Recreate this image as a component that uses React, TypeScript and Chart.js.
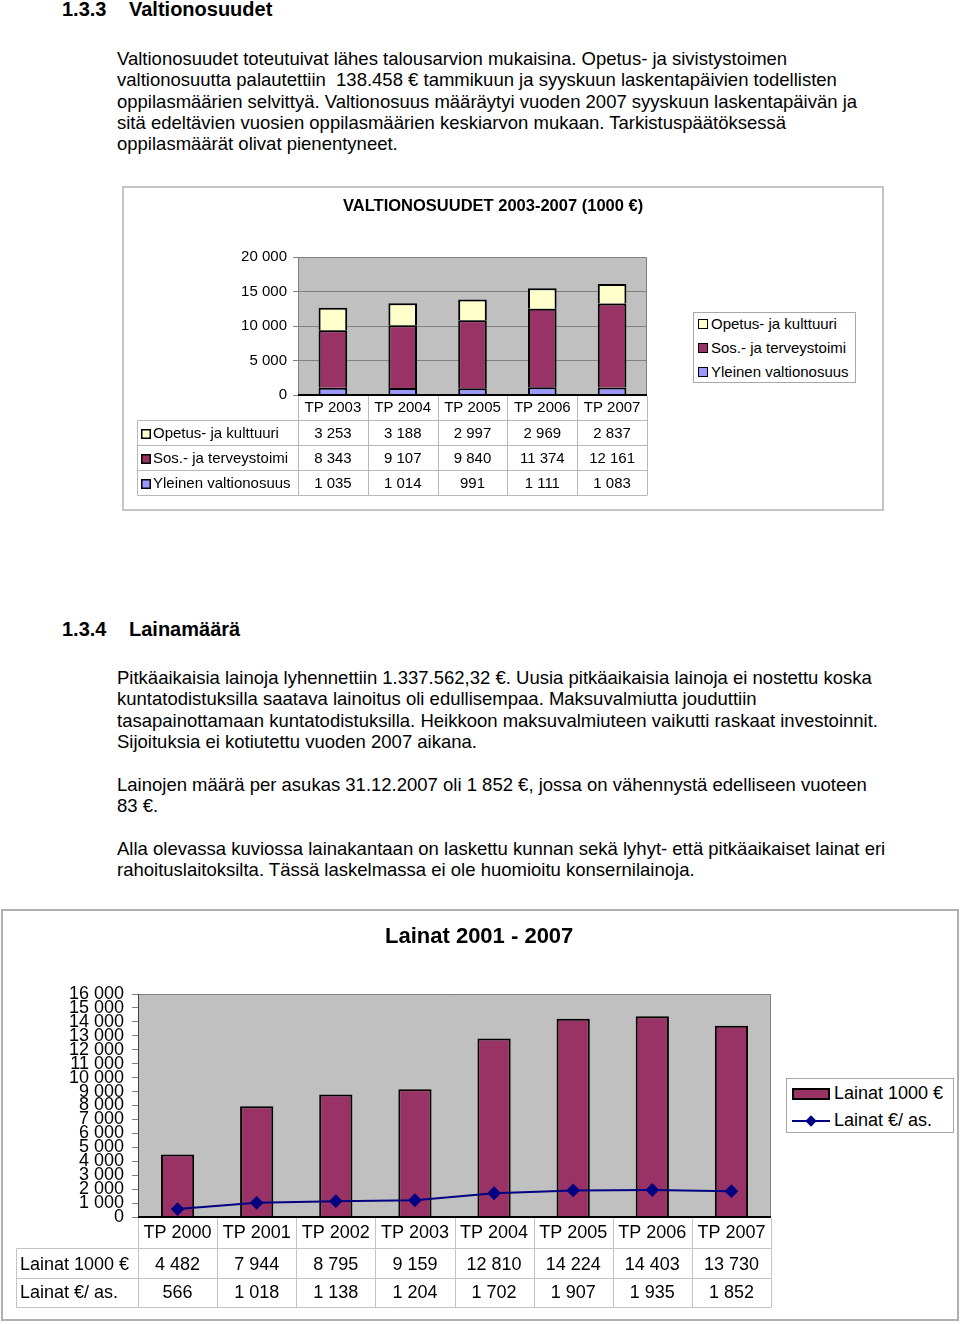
import React, { useEffect, useRef } from "react";
import { Chart, registerables } from "chart.js";
Chart.register(...registerables);

// ---------- DATA ----------
const years1 = ["TP 2003", "TP 2004", "TP 2005", "TP 2006", "TP 2007"];
const opetus = [3253, 3188, 2997, 2969, 2837];
const sos = [8343, 9107, 9840, 11374, 12161];
const yleinen = [1035, 1014, 991, 1111, 1083];
const yTicks1 = [0, 5000, 10000, 15000, 20000];

const years2 = ["TP 2000", "TP 2001", "TP 2002", "TP 2003", "TP 2004", "TP 2005", "TP 2006", "TP 2007"];
const lainat1000 = [4482, 7944, 8795, 9159, 12810, 14224, 14403, 13730];
const lainatPerAs = [566, 1018, 1138, 1204, 1702, 1907, 1935, 1852];
const yTicks2 = [0, 1000, 2000, 3000, 4000, 5000, 6000, 7000, 8000, 9000, 10000, 11000, 12000, 13000, 14000, 15000, 16000];

const label1Opetus = "Opetus- ja kulttuuri";
const label1Sos = "Sos.- ja terveystoimi";
const label1Yleinen = "Yleinen valtionosuus";
const label2Bar = "Lainat 1000 €";
const label2Line = "Lainat €/ as.";

// ---------- STYLE ----------
const FONT = '"Liberation Sans", Arial, sans-serif';
const YELLOW = "#ffffcc";
const PLUM = "#993366";
const BLUE = "#9999ff";
const NAVY = "#000080";
const PLOT_BG = "#c0c0c0";

const fmt = (v: number) => String(v).replace(/\B(?=(\d{3})+(?!\d))/g, " ");

type Row = { label: string; values: number[]; swatch?: string };
type TableCfg = {
  font: string;
  headerY: number;
  hLines: number[];
  rowYs: number[];
  left: number;
  labelX: number;
  swatchX: number;
  swatchSize: number;
  lineColor: string;
  rows: Row[];
  labels: string[];
};

function tablePlugin(id: string, cfg: TableCfg) {
  return {
    id,
    afterDraw(chart: any) {
      const { ctx, chartArea } = chart;
      const xs = chart.scales.x;
      const n = cfg.labels.length;
      const colW = (chartArea.right - chartArea.left) / n;
      const bottom = cfg.hLines[cfg.hLines.length - 1];
      ctx.save();
      ctx.strokeStyle = cfg.lineColor;
      ctx.lineWidth = 1;
      ctx.beginPath();
      for (const y of cfg.hLines) {
        ctx.moveTo(cfg.left, y);
        ctx.lineTo(chartArea.right, y);
      }
      for (let k = 0; k <= n; k++) {
        const x = Math.round(chartArea.left + k * colW) + 0.5;
        ctx.moveTo(x, chartArea.bottom + 1);
        ctx.lineTo(x, bottom);
      }
      ctx.moveTo(cfg.left, cfg.hLines[0]);
      ctx.lineTo(cfg.left, bottom);
      ctx.stroke();

      ctx.fillStyle = "#000";
      ctx.font = cfg.font;
      ctx.textBaseline = "middle";
      ctx.textAlign = "center";
      cfg.labels.forEach((l, i) => ctx.fillText(l, xs.getPixelForValue(i), cfg.headerY));
      cfg.rows.forEach((r, ri) => {
        const y = cfg.rowYs[ri];
        ctx.textAlign = "center";
        r.values.forEach((v, i) => ctx.fillText(fmt(v), xs.getPixelForValue(i), y));
        ctx.textAlign = "left";
        ctx.fillText(r.label, cfg.labelX, y);
        if (r.swatch) {
          const s = cfg.swatchSize;
          const top = Math.round(y - s / 2);
          ctx.fillStyle = "#000";
          ctx.fillRect(cfg.swatchX, top, s, s);
          ctx.fillStyle = r.swatch;
          ctx.fillRect(cfg.swatchX + 1.5, top + 1.5, s - 3, s - 3);
          ctx.fillStyle = "#000";
        }
      });
      ctx.restore();
    },
  };
}

function plotFramePlugin(id: string, leftColor: string) {
  return {
    id,
    beforeDraw(chart: any) {
      const { ctx, chartArea: a } = chart;
      ctx.save();
      ctx.fillStyle = PLOT_BG;
      ctx.fillRect(a.left, a.top, a.right - a.left, a.bottom - a.top);
      ctx.restore();
    },
    afterDatasetsDraw(chart: any) {
      const { ctx, chartArea: a } = chart;
      ctx.save();
      ctx.lineWidth = 1;
      ctx.strokeStyle = "#808080";
      ctx.beginPath();
      ctx.moveTo(a.left, a.top + 0.5);
      ctx.lineTo(a.right - 0.5, a.top + 0.5);
      ctx.lineTo(a.right - 0.5, a.bottom);
      ctx.stroke();
      ctx.strokeStyle = leftColor;
      ctx.beginPath();
      ctx.moveTo(a.left + 0.5, a.top);
      ctx.lineTo(a.left + 0.5, a.bottom);
      ctx.stroke();
      ctx.strokeStyle = "#000";
      ctx.lineWidth = 2;
      ctx.beginPath();
      ctx.moveTo(a.left, a.bottom);
      ctx.lineTo(a.right, a.bottom);
      ctx.stroke();
      ctx.restore();
    },
  };
}

function config1(): any {
  const common = { borderColor: "#000", borderWidth: 2, barPercentage: 0.41, categoryPercentage: 1 };
  return {
    type: "bar",
    data: {
      labels: years1,
      datasets: [
        { label: label1Yleinen, data: yleinen, backgroundColor: BLUE, ...common },
        { label: label1Sos, data: sos, backgroundColor: PLUM, ...common },
        { label: label1Opetus, data: opetus, backgroundColor: YELLOW, ...common },
      ],
    },
    options: {
      responsive: false,
      animation: false,
      devicePixelRatio: 1,
      layout: { padding: { left: 0, top: 70, right: 236, bottom: 0 } },
      plugins: { legend: { display: false }, tooltip: { enabled: false }, title: { display: false } },
      scales: {
        x: {
          stacked: true,
          grid: { display: false },
          border: { display: false },
          ticks: { display: false },
          afterFit: (s: any) => { s.height = 115; },
        },
        y: {
          stacked: true,
          min: 0,
          max: 20000,
          afterBuildTicks: (s: any) => { s.ticks = yTicks1.map((v) => ({ value: v })); },
          afterFit: (s: any) => { s.width = 175; },
          grid: { color: "#808080", tickLength: 5, lineWidth: 1 },
          border: { display: false },
          ticks: { padding: 6, color: "#000", font: { family: FONT, size: 15 }, callback: (v: any) => fmt(Number(v)) },
        },
      },
    },
    plugins: [
      plotFramePlugin("frame1", "#808080"),
      tablePlugin("table1", {
        font: `15px ${FONT}`,
        headerY: 221,
        hLines: [233.5, 258.5, 283.5, 308.5],
        rowYs: [247, 272, 297],
        left: 14.5,
        labelX: 30,
        swatchX: 18,
        swatchSize: 10,
        lineColor: "#b8b8b8",
        labels: years1,
        rows: [
          { label: label1Opetus, values: opetus, swatch: YELLOW },
          { label: label1Sos, values: sos, swatch: PLUM },
          { label: label1Yleinen, values: yleinen, swatch: BLUE },
        ],
      }),
    ],
  };
}

function config2(): any {
  return {
    type: "bar",
    data: {
      labels: years2,
      datasets: [
        {
          type: "line",
          label: label2Line,
          data: lainatPerAs,
          borderColor: NAVY,
          backgroundColor: NAVY,
          borderWidth: 2,
          pointStyle: "rectRot",
          pointRadius: 5.5,
          pointBackgroundColor: NAVY,
          pointBorderColor: NAVY,
          tension: 0,
          order: 0,
        },
        {
          type: "bar",
          label: label2Bar,
          data: lainat1000,
          backgroundColor: PLUM,
          borderColor: "#000",
          borderWidth: 2,
          barPercentage: 0.42,
          categoryPercentage: 1,
          order: 1,
        },
      ],
    },
    options: {
      responsive: false,
      animation: false,
      devicePixelRatio: 1,
      layout: { padding: { left: 0, top: 84, right: 187, bottom: 0 } },
      plugins: { legend: { display: false }, tooltip: { enabled: false }, title: { display: false } },
      scales: {
        x: {
          grid: { display: false },
          border: { display: false },
          ticks: { display: false },
          afterFit: (s: any) => { s.height = 103; },
        },
        y: {
          min: 0,
          max: 16000,
          afterBuildTicks: (s: any) => { s.ticks = yTicks2.map((v) => ({ value: v })); },
          afterFit: (s: any) => { s.width = 136; },
          grid: { drawOnChartArea: false, drawTicks: true, tickLength: 6, color: "#808080" },
          border: { display: false },
          ticks: { autoSkip: false, padding: 8, color: "#000", font: { family: FONT, size: 18 }, callback: (v: any) => fmt(Number(v)) },
        },
      },
    },
    plugins: [
      plotFramePlugin("frame2", "#404040"),
      tablePlugin("table2", {
        font: `18px ${FONT}`,
        headerY: 323,
        hLines: [338.5, 368.5, 397.5],
        rowYs: [355, 383],
        left: 14.5,
        labelX: 18,
        swatchX: 0,
        swatchSize: 0,
        lineColor: "#c4c4c4",
        labels: years2,
        rows: [
          { label: label2Bar, values: lainat1000 },
          { label: label2Line, values: lainatPerAs },
        ],
      }),
    ],
  };
}

function ChartCanvas(props: { make: () => any; left: number; top: number; width: number; height: number }) {
  const ref = useRef<HTMLCanvasElement>(null);
  useEffect(() => {
    const c = new Chart(ref.current as HTMLCanvasElement, props.make());
    return () => c.destroy();
  }, []);
  return (
    <canvas
      ref={ref}
      width={props.width}
      height={props.height}
      style={{ position: "absolute", left: props.left, top: props.top, width: props.width, height: props.height }}
    />
  );
}

const abs = (left: number, top: number, extra: React.CSSProperties = {}): React.CSSProperties => ({
  position: "absolute",
  left,
  top,
  ...extra,
});

const paraStyle: React.CSSProperties = {
  fontSize: "18.5px",
  lineHeight: "21.3px",
  whiteSpace: "pre",
  color: "#000",
};

export default function App() {
  return (
    <div style={{ position: "absolute", left: 0, top: 0, width: 960, height: 1324, fontFamily: FONT, color: "#000", background: "#fff", overflow: "hidden" }}>
      {/* Heading 1 */}
      <div style={abs(62, -1, { fontSize: 20, fontWeight: "bold", lineHeight: "20px", whiteSpace: "pre" })}>
        <span>1.3.3</span>
        <span style={{ position: "absolute", left: 67 }}>Valtionosuudet</span>
      </div>
      <div style={abs(117, 48, paraStyle)}>
        {"Valtionosuudet toteutuivat lähes talousarvion mukaisina. Opetus- ja sivistystoimen\n" +
          "valtionosuutta palautettiin  138.458 € tammikuun ja syyskuun laskentapäivien todellisten\n" +
          "oppilasmäärien selvittyä. Valtionosuus määräytyi vuoden 2007 syyskuun laskentapäivän ja\n" +
          "sitä edeltävien vuosien oppilasmäärien keskiarvon mukaan. Tarkistuspäätöksessä\n" +
          "oppilasmäärät olivat pienentyneet."}
      </div>

      {/* Chart 1 */}
      <div style={abs(122, 186, { width: 762, height: 325, border: "2px solid #c4c4c4", boxSizing: "border-box" })} />
      <ChartCanvas make={config1} left={123} top={187} width={760} height={323} />
      <div style={abs(343, 195, { fontSize: "16.5px", fontWeight: "bold", lineHeight: "20px", whiteSpace: "pre" })}>
        VALTIONOSUUDET 2003-2007 (1000 €)
      </div>
      <div style={abs(693, 312, { width: 163, height: 71, border: "1px solid #a8a8a8", boxSizing: "border-box", fontSize: 15, whiteSpace: "pre", background: "#fff" })}>
        {[
          { t: label1Opetus, c: YELLOW, y: 12 },
          { t: label1Sos, c: PLUM, y: 36 },
          { t: label1Yleinen, c: BLUE, y: 60 },
        ].map((it) => (
          <div key={it.t}>
            <div style={abs(4, it.y - 6, { width: 10, height: 10, background: it.c, border: "1.5px solid #000", boxSizing: "border-box" })} />
            <div style={abs(17, it.y - 10, { lineHeight: "18px" })}>{it.t}</div>
          </div>
        ))}
      </div>

      {/* Heading 2 */}
      <div style={abs(62, 619, { fontSize: 20, fontWeight: "bold", lineHeight: "20px", whiteSpace: "pre" })}>
        <span>1.3.4</span>
        <span style={{ position: "absolute", left: 67 }}>Lainamäärä</span>
      </div>
      <div style={abs(117, 667, paraStyle)}>
        {"Pitkäaikaisia lainoja lyhennettiin 1.337.562,32 €. Uusia pitkäaikaisia lainoja ei nostettu koska\n" +
          "kuntatodistuksilla saatava lainoitus oli edullisempaa. Maksuvalmiutta jouduttiin\n" +
          "tasapainottamaan kuntatodistuksilla. Heikkoon maksuvalmiuteen vaikutti raskaat investoinnit.\n" +
          "Sijoituksia ei kotiutettu vuoden 2007 aikana."}
      </div>
      <div style={abs(117, 774, paraStyle)}>
        {"Lainojen määrä per asukas 31.12.2007 oli 1 852 €, jossa on vähennystä edelliseen vuoteen\n" + "83 €."}
      </div>
      <div style={abs(117, 838, paraStyle)}>
        {"Alla olevassa kuviossa lainakantaan on laskettu kunnan sekä lyhyt- että pitkäaikaiset lainat eri\n" +
          "rahoituslaitoksilta. Tässä laskelmassa ei ole huomioitu konsernilainoja."}
      </div>

      {/* Chart 2 */}
      <div style={abs(1, 909, { width: 958, height: 412, border: "2px solid #b0b0b0", boxSizing: "border-box" })} />
      <ChartCanvas make={config2} left={2} top={910} width={956} height={410} />
      <div style={abs(385, 923, { fontSize: 22, fontWeight: "bold", lineHeight: "26px", whiteSpace: "pre" })}>
        Lainat 2001 - 2007
      </div>
      <div style={abs(786, 1078, { width: 168, height: 55, border: "1px solid #a8a8a8", boxSizing: "border-box", fontSize: 18, whiteSpace: "pre", background: "#fff" })}>
        <div style={abs(5, 9, { width: 38, height: 12, background: PLUM, border: "2px solid #000", boxSizing: "border-box" })} />
        <div style={abs(47, 4, { lineHeight: "21px" })}>{label2Bar}</div>
        <div style={abs(5, 41, { width: 38, height: 2, background: NAVY })} />
        <div style={abs(20, 37.5, { width: 8, height: 8, background: NAVY, transform: "rotate(45deg)" })} />
        <div style={abs(47, 31, { lineHeight: "21px" })}>{label2Line}</div>
      </div>
    </div>
  );
}
